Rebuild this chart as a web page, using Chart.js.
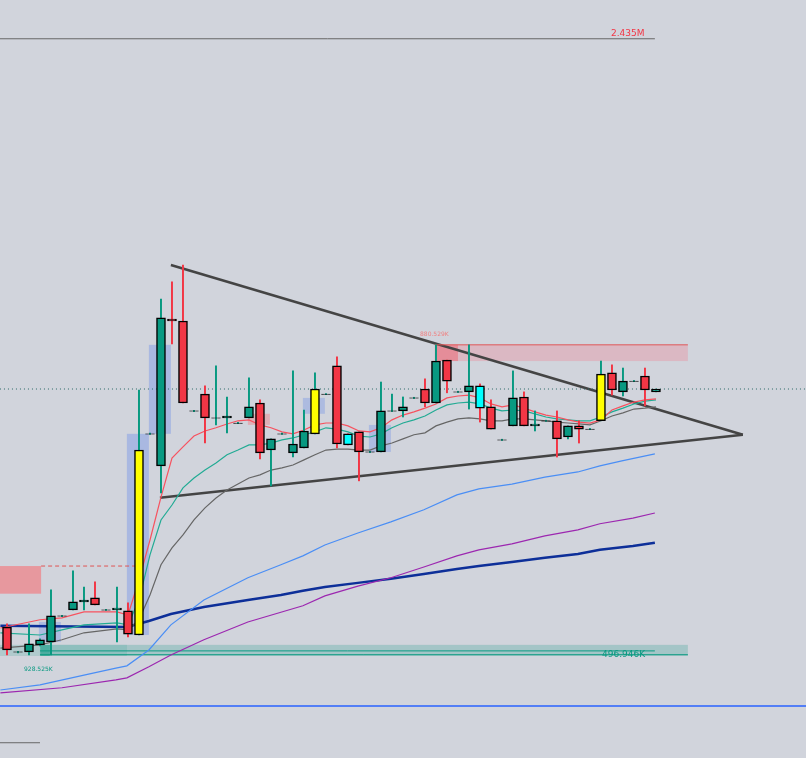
<!DOCTYPE html>
<html>
<head>
<meta charset="utf-8">
<script src="https://cdn.jsdelivr.net/npm/chart.js@4.4.1/dist/chart.umd.min.js"></script>
<style>
  html, body { margin: 0; padding: 0; background: #d1d4dc; }
  #wrap { width: 806px; height: 758px; }
</style>
</head>
<body>
<div id="wrap"><canvas id="myChart"></canvas></div>
<script>
// candles (price in K), one per bar
const opens  = [584,506,506,528,537,619,638,663,676,638,638,635,559,1192,1091,1553,1547,1264,1317,1242,1242,1226,1242,1289,1141,1192,1132,1148,1192,1317,1406,1157,1198,1135,1135,1264,1264,1305,1333,1289,1424,1324,1324,1273,1277,1173,1217,1308,1217,1233,1233,1182,1217,1207,1233,1384,1324,1358,1374,1324];
const highs  = [594,508,594,547,701,621,761,710,726,640,710,660,1330,1194,1616,1670,1723,1266,1343,1406,1308,1228,1368,1299,1176,1194,1390,1267,1384,1319,1434,1192,1198,1137,1355,1317,1308,1307,1365,1472,1424,1326,1472,1349,1299,1175,1390,1324,1264,1235,1264,1217,1233,1209,1421,1409,1399,1360,1399,1333];
const lows   = [496,503,496,525,496,617,638,638,654,636,537,553,559,1190,1006,1475,1289,1262,1163,1220,1195,1224,1242,1113,1028,1190,1119,1148,1192,1315,1148,1157,1044,1133,1135,1262,1245,1303,1277,1289,1321,1322,1270,1229,1207,1171,1217,1217,1201,1231,1119,1176,1163,1205,1233,1314,1311,1356,1280,1324];
const closes = [512,505,531,544,619,618,663,669,654,637,644,562,1141,1191,1557,1547,1289,1263,1242,1241,1248,1225,1277,1132,1176,1191,1160,1201,1333,1316,1160,1192,1135,1134,1264,1263,1277,1304,1289,1421,1358,1323,1343,1343,1207,1172,1305,1217,1223,1232,1176,1217,1207,1206,1380,1330,1358,1357,1330,1333];
const kinds  = ['r','d','g','g','g','d','g','g','r','d','g','r','y','d','g','r','r','d','r','d','g','d','g','r','g','d','g','g','y','d','r','c','r','d','g','d','g','d','r','g','r','d','g','c','r','d','g','r','g','d','r','g','r','d','y','r','g','d','r','g'];

// moving averages
const maIdx = [-0.6,3,5,7,10,11,12,13,14,15,16,17,18,19,20,21,22,23,24,25,26,27,28,29,30,31,32,33,34,35,36,37,38,39,40,41,42,43,44,45,46,47,48,49,50,51,52,53,54,55,56,57,58,59];
const emaFast = [581,607,613,632,632,622,732,858,993,1116,1151,1185,1201,1211,1223,1233,1236,1220,1211,1198,1192,1204,1220,1226,1226,1217,1201,1198,1211,1236,1251,1261,1273,1286,1305,1311,1314,1305,1286,1277,1283,1273,1261,1251,1245,1236,1229,1226,1236,1267,1280,1292,1299,1302];
const emaMid = [566,559,575,591,597,591,669,811,921,968,1022,1053,1078,1100,1126,1141,1157,1157,1163,1173,1179,1189,1198,1211,1207,1198,1185,1182,1192,1211,1226,1236,1248,1267,1283,1289,1292,1286,1273,1264,1267,1264,1255,1245,1239,1236,1233,1233,1245,1261,1273,1286,1295,1299];
const maSlow = [518,528,544,566,578,575,607,685,780,833,874,921,959,990,1015,1034,1053,1063,1078,1085,1094,1110,1126,1141,1144,1144,1141,1141,1154,1163,1176,1189,1195,1217,1229,1239,1242,1239,1233,1233,1239,1239,1236,1233,1229,1226,1223,1220,1233,1248,1258,1270,1273,1277];

const blueIdx = [-0.6,3,7,9.9,10.9,12.9,14.9,17.9,21.9,24.9,26.9,28.9,31.9,34.9,37.9,40.9,42.9,45.9,48.9,51.9,53.9,55.9,58.9];
const blueVals = [386,402,433,455,462,512,591,669,739,780,808,842,880,915,953,1000,1019,1034,1056,1072,1091,1107,1129];
const purpleIdx = [-0.6,5,9.9,10.9,12.9,14.9,17.9,21.9,26.9,28.9,31.9,34.9,37.9,40.9,42.9,45.9,48.9,51.9,53.9,56.9,58.9];
const purpleVals = [377,393,418,424,459,496,544,600,651,682,713,739,773,808,827,846,871,890,909,927,943];
const navyIdx = [-0.6,10.9,12.9,14.9,17.9,21.9,24.9,26.9,28.9,31.9,34.9,37.9,40.9,42.9,45.9,48.9,51.9,53.9,56.9,58.9];
const navyVals = [588,584,603,625,647,669,685,698,710,723,736,751,767,776,789,802,814,827,839,849];

// levels
const topLevel = 2435;
const lastLevel = 1333;
const blueLevel = 336;
const supportLevel = 496.946;
const resistLevel = 880.529;

const bodyColor = { g: '#089981', r: '#f23645', y: '#ffff00', c: '#00ffff', d: '#000000' };
const wickColor = { g: '#089981', r: '#f23645', y: '#089981', c: '#f23645', d: '#089981' };

function pts(xs, ys) { return xs.map((x, i) => ({ x: x, y: ys[i] })); }

const wicks = opens.map((o, i) => ({ x: i, y: [lows[i], highs[i]] }));
const bodies = opens.map((o, i) => ({ x: i, y: [o, closes[i]] }));

function line(data, color, width, extra) {
    return Object.assign({ type: 'line', data: data, borderColor: color, borderWidth: width, pointRadius: 0, tension: 0, order: 5 }, extra || {});
}

const boxes = {
    id: 'boxes',
    beforeDatasetsDraw(chart) {
        const ctx = chart.ctx, x = chart.scales.x, y = chart.scales.y;
        function rect(x0, x1, y0, y1, color) {
            const px0 = x.getPixelForValue(x0), px1 = x.getPixelForValue(x1);
            const py0 = y.getPixelForValue(y0), py1 = y.getPixelForValue(y1);
            ctx.fillStyle = color;
            ctx.fillRect(px0, py1, px1 - px0, py0 - py1);
        }
        ctx.save();
        rect(-0.64, 3.1, 689, 776, 'rgba(242,120,125,0.65)');
        rect(3.1, 61.9, 493, 528, 'rgba(80,170,160,0.35)');
        rect(-0.64, 10.9, 493, 528, 'rgba(80,170,160,0.25)');
        rect(3, 3.9, 493, 528, 'rgba(8,153,129,0.5)');
        rect(38.9, 61.9, 1421, 1472, 'rgba(242,120,140,0.3)');
        rect(38.9, 41, 1421, 1472, 'rgba(242,90,100,0.45)');
        rect(10.9, 12.9, 559, 1192, 'rgba(120,150,230,0.45)');
        rect(12.9, 14.9, 1192, 1472, 'rgba(120,150,230,0.45)');
        rect(2.9, 4.9, 537, 600, 'rgba(120,150,230,0.4)');
        rect(26.9, 28.9, 1255, 1305, 'rgba(120,150,230,0.4)');
        rect(32.9, 34.9, 1135, 1220, 'rgba(120,150,230,0.4)');
        rect(21.9, 23.9, 1220, 1255, 'rgba(242,120,125,0.4)');
        ctx.restore();
    },
    afterDraw(chart) {
        const ctx = chart.ctx, y = chart.scales.y;
        ctx.save();
        ctx.font = '9px "DejaVu Sans"';
        ctx.fillStyle = '#f23645';
        ctx.fillText('2.435M', 611, y.getPixelForValue(topLevel) - 3);
        ctx.fillStyle = '#f08080';
        ctx.font = '6px "DejaVu Sans"';
        ctx.fillText('880.529K', 420, 336);
        ctx.fillStyle = '#089981';
        ctx.fillText('928.525K', 24, 671);
        ctx.font = '9px "DejaVu Sans"';
        ctx.fillText('496.946K', 602, y.getPixelForValue(supportLevel) + 2);
        ctx.restore();
    }
};

const ctx = document.getElementById('myChart').getContext('2d');
new Chart(ctx, {
    type: 'bar',
    data: {
        datasets: [
            { data: wicks, backgroundColor: kinds.map(k => wickColor[k]), barThickness: 1.3, grouped: false, order: 3 },
            { data: bodies, backgroundColor: kinds.map(k => bodyColor[k]), borderColor: '#000', borderWidth: 1.5, borderSkipped: false, barThickness: 9, grouped: false, order: 1 },
            line(pts(maIdx, emaFast), '#f7525f', 1.2),
            line(pts(maIdx, emaMid), '#22ab94', 1.2),
            line(pts(maIdx, maSlow), '#666', 1.2),
            line(pts(blueIdx, blueVals), '#4a8ef5', 1.2),
            line(pts(purpleIdx, purpleVals), '#9c27b0', 1.2),
            line(pts(navyIdx, navyVals), '#0d2f99', 2.5),
            line([{x: -0.64, y: topLevel}, {x: 58.9, y: topLevel}], '#666', 1),
            line([{x: -0.64, y: lastLevel}, {x: 72.7, y: lastLevel}], '#2a6a66', 1, { borderDash: [1, 3] }),
            line([{x: -0.64, y: blueLevel}, {x: 72.7, y: blueLevel}], '#2962ff', 1.5),
            line([{x: -0.64, y: 220}, {x: 3, y: 220}], '#666', 1),
            line([{x: 3, y: supportLevel}, {x: 61.9, y: supportLevel}], '#089981', 1),
            line([{x: 3, y: 509}, {x: 58.9, y: 509}], '#089981', 1),
            line([{x: 3.1, y: 776}, {x: 11.9, y: 776}], '#e05555', 1, { borderDash: [4, 3] }),
            line([{x: 38.9, y: 1472}, {x: 61.9, y: 1472}], '#e05555', 1),
            line([{x: 14.9, y: 1723}, {x: 66.9, y: 1189}], '#444', 2.5),
            line([{x: 13.9, y: 991}, {x: 66.9, y: 1189}], '#444', 2.5)
        ]
    },
    options: {
        responsive: true,
        maintainAspectRatio: false,
        animation: false,
        layout: { padding: 0 },
        plugins: { legend: { display: false }, tooltip: { enabled: false } },
        scales: {
            x: { type: 'linear', min: -0.636, max: 72.64, display: false, offset: false },
            y: { min: 172, max: 2557, display: false }
        }
    },
    plugins: [boxes]
});
</script>
</body>
</html>
